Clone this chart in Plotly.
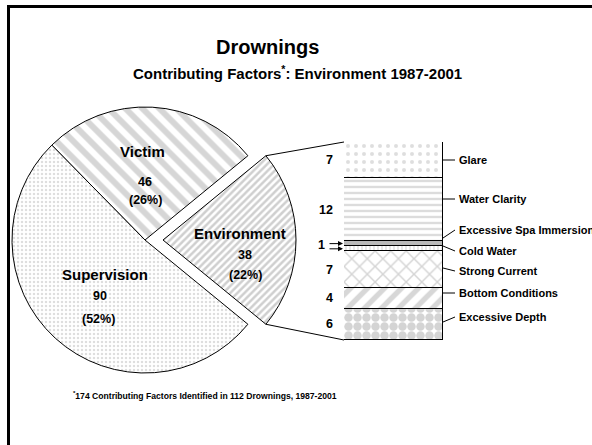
import math
import plotly.graph_objects as go

# ---------------- data ----------------
pie_labels = ["Environment", "Victim", "Supervision"]
pie_values = [38, 46, 90]

bar_labels = ["Excessive Depth", "Bottom Conditions", "Strong Current", "Cold Water",
              "Excessive Spa Immersion", "Water Clarity", "Glare"]
bar_values = [6, 4, 7, 1, 1, 12, 7]

title_text = "Drownings"
subtitle_text = "Contributing Factors<sup>*</sup>: Environment 1987-2001"
footnote_text = "<sup>*</sup>174 Contributing Factors Identified in 112 Drownings, 1987-2001"

# ---------------- layout helpers (pixels) ----------------
W, H = 592, 445
FONT = "Arial, Liberation Sans, sans-serif"


def px(x):
    return x / W


def py(y):
    return 1 - y / H


PIE_CX, PIE_CY, PIE_R = 145, 240, 133
PULL = 18
BAR_L, BAR_R, BAR_T, BAR_B = 344, 443, 142, 340

total = sum(pie_values)
half_angle = pie_values[0] / total * 180.0
TR = "rgba(0,0,0,0)"

fig = go.Figure()

# main pie (victim + supervision), environment slot left empty
fig.add_trace(go.Pie(
    labels=pie_labels, values=pie_values, sort=False,
    direction="counterclockwise", rotation=90 - half_angle,
    textinfo="none", hoverinfo="none", showlegend=False,
    domain=dict(x=[px(PIE_CX - PIE_R), px(PIE_CX + PIE_R)],
                y=[py(PIE_CY + PIE_R), py(PIE_CY - PIE_R)]),
    marker=dict(
        colors=[TR, "white", "white"],
        line=dict(color=["black", "black", "black"], width=[0, 1, 1]),
        pattern=dict(shape=["", "\\", "."],
                     fgcolor=[TR, "#adadad", "#bcbcbc"],
                     bgcolor=[TR, "white", "white"],
                     size=[8, 12, 4], solidity=[0.3, 0.5, 0.3],
                     fillmode="overlay"),
    ),
))

# exploded environment slice
fig.add_trace(go.Pie(
    labels=pie_labels, values=pie_values, sort=False,
    direction="counterclockwise", rotation=90 - half_angle,
    textinfo="none", hoverinfo="none", showlegend=False,
    domain=dict(x=[px(PIE_CX + PULL - PIE_R), px(PIE_CX + PULL + PIE_R)],
                y=[py(PIE_CY + PIE_R), py(PIE_CY - PIE_R)]),
    marker=dict(
        colors=["white", TR, TR],
        line=dict(color=["black", "black", "black"], width=[1, 0, 0]),
        pattern=dict(shape=["/", "", ""],
                     fgcolor=["#a0a0a0", TR, TR],
                     bgcolor=["white", TR, TR],
                     size=[5, 8, 8], solidity=[0.5, 0.3, 0.3],
                     fillmode="overlay"),
    ),
))

# stacked bar (bottom to top)
bar_styles = [
    dict(shape=".", fgcolor="#a9a9a9", size=9, solidity=0.7),
    dict(shape="/", fgcolor="#b0b0b0", size=12, solidity=0.45),
    dict(shape="x", fgcolor="#aaaaaa", size=11, solidity=0.25),
    dict(shape="|", fgcolor="#b0b0b0", size=4, solidity=0.3),
    dict(shape="", fgcolor="#b5b5b5", size=8, solidity=0.3),
    dict(shape="-", fgcolor="#bababa", size=6, solidity=0.4),
    dict(shape=".", fgcolor="#bdbdbd", size=8, solidity=0.2),
]
bar_colors = ["white", "white", "white", "white", "#b8b8b8", "white", "white"]
for name, val, st, col in zip(bar_labels, bar_values, bar_styles, bar_colors):
    fig.add_trace(go.Bar(
        x=[0], y=[val], width=1, name=name, showlegend=False, hoverinfo="none",
        marker=dict(color=col, line=dict(color="black", width=1),
                    pattern=dict(bgcolor=col, fillmode="overlay", **st)),
    ))

bar_total = sum(bar_values)
annotations = []

# left value labels
cum = 0
mids = []
for v in bar_values:
    mids.append(cum + v / 2)
    cum += v
for name, v, m in zip(bar_labels, bar_values, mids):
    if v == 1:
        annotations.append(dict(xref="x", yref="y", x=-0.5, y=m, text="", showarrow=True,
                                ax=-16, ay=0, arrowhead=2, arrowsize=1, arrowwidth=1,
                                arrowcolor="black", standoff=1))
        continue
    annotations.append(dict(xref="x", yref="y", x=-0.5, y=m, text="<b>%d</b>" % v,
                            showarrow=False, xanchor="right", xshift=-9,
                            font=dict(size=12.5, color="black", family=FONT)))
ones = [m for v, m in zip(bar_values, mids) if v == 1]
annotations.append(dict(xref="x", yref="y", x=-0.5, y=sum(ones) / len(ones), text="<b>1</b>",
                        showarrow=False, xanchor="right", xshift=-17, yshift=1,
                        font=dict(size=12.5, color="black", family=FONT)))

# right category labels with leader lines (label y, leader start y)
label_pos = {
    "Glare": (160, 160),
    "Water Clarity": (199, 199),
    "Excessive Spa Immersion": (230, 238),
    "Cold Water": (251, 246),
    "Strong Current": (271, 268),
    "Bottom Conditions": (293, 293),
    "Excessive Depth": (317, 322),
}
shapes = []
for name in bar_labels:
    ly, sy = label_pos[name]
    annotations.append(dict(xref="paper", yref="paper", x=px(457), y=py(ly),
                            text="<b>%s</b>" % name, showarrow=False,
                            xanchor="left", yanchor="middle",
                            font=dict(size=11, color="black", family=FONT)))
    shapes.append(dict(type="line", xref="paper", yref="paper",
                       x0=px(BAR_R), y0=py(sy), x1=px(455), y1=py(ly),
                       line=dict(color="black", width=1)))

# pie labels
pie_text_pos = {
    "Victim": [(142, 151), (145, 182), (145, 200)],
    "Environment": [(240, 233), (245, 255), (246, 275)],
    "Supervision": [(105, 274), (100, 296), (98, 319)],
}
for lab, val in zip(pie_labels, pie_values):
    p = pie_text_pos[lab]
    pct = round(val / total * 100)
    for (x, y), t, s in zip(p, ["<b>%s</b>" % lab, "<b>%d</b>" % val, "<b>(%d%%)</b>" % pct],
                            [15, 12.5, 12.5]):
        annotations.append(dict(xref="paper", yref="paper", x=px(x), y=py(y), text=t,
                                showarrow=False, xanchor="center", yanchor="middle",
                                font=dict(size=s, color="black", family=FONT)))

# titles and footnote
annotations.append(dict(xref="paper", yref="paper", x=px(267), y=py(47), text="<b>%s</b>" % title_text,
                        showarrow=False, xanchor="center", yanchor="middle",
                        font=dict(size=20, color="black", family=FONT)))
annotations.append(dict(xref="paper", yref="paper", x=px(297), y=py(72), text="<b>%s</b>" % subtitle_text,
                        showarrow=False, xanchor="center", yanchor="middle",
                        font=dict(size=15, color="black", family=FONT)))
annotations.append(dict(xref="paper", yref="paper", x=px(71), y=py(395), text="<b>%s</b>" % footnote_text,
                        showarrow=False, xanchor="left", yanchor="middle",
                        font=dict(size=8.6, color="black", family=FONT)))

# connector lines from exploded slice to bar
ex_cx = PIE_CX + PULL
a = math.radians(half_angle)
top_pt = (ex_cx + PIE_R * math.cos(a), PIE_CY - PIE_R * math.sin(a))
bot_pt = (ex_cx + PIE_R * math.cos(a), PIE_CY + PIE_R * math.sin(a))
shapes.append(dict(type="line", xref="paper", yref="paper", x0=px(top_pt[0]), y0=py(top_pt[1]),
                   x1=px(BAR_L), y1=py(BAR_T), line=dict(color="black", width=1)))
shapes.append(dict(type="line", xref="paper", yref="paper", x0=px(bot_pt[0]), y0=py(bot_pt[1]),
                   x1=px(BAR_L), y1=py(BAR_B), line=dict(color="black", width=1)))

# outer frame
shapes.append(dict(type="rect", xref="paper", yref="paper", x0=px(8.5), y0=py(6.5),
                   x1=px(700), y1=py(600), line=dict(color="black", width=3),
                   fillcolor="rgba(0,0,0,0)"))

fig.update_layout(
    width=W, height=H, margin=dict(l=0, r=0, t=0, b=0),
    paper_bgcolor="white", plot_bgcolor="rgba(0,0,0,0)",
    barmode="stack", bargap=0, showlegend=False,
    xaxis=dict(domain=[px(BAR_L), px(BAR_R)], range=[-0.5, 0.5], visible=False, fixedrange=True),
    yaxis=dict(domain=[py(BAR_B), py(BAR_T)], range=[0, bar_total], visible=False, fixedrange=True),
    annotations=annotations, shapes=shapes,
    font=dict(family=FONT, color="black"),
)

fig.write_html("out.html", config={"displayModeBar": False},
               post_script="document.body.style.margin='0px';document.body.style.overflow='hidden';")
